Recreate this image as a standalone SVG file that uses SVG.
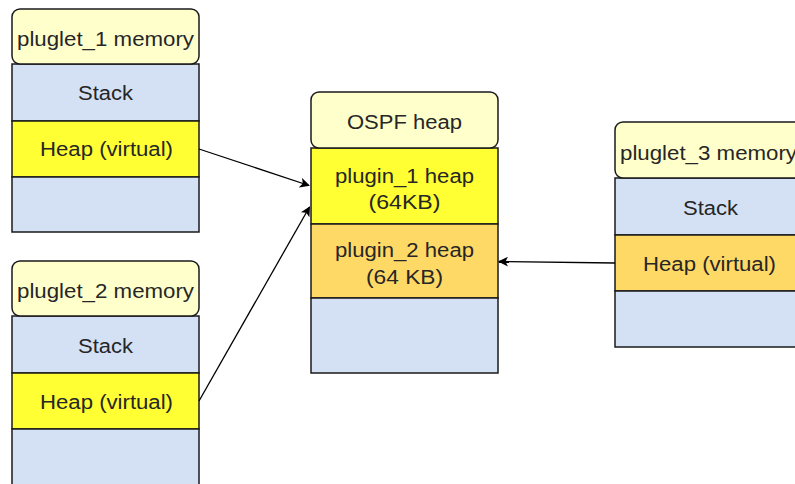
<svg xmlns="http://www.w3.org/2000/svg" width="795" height="484" viewBox="0 0 795 484">
  <style>
    .hdr { fill: #ffffcc; stroke: #1a1a1a; stroke-width: 1.5; }
    .blue { fill: #d4e1f5; stroke: #1a1a1a; stroke-width: 1.5; }
    .yel { fill: #ffff33; stroke: #1a1a1a; stroke-width: 1.5; }
    .org { fill: #ffd966; stroke: #1a1a1a; stroke-width: 1.5; }
    text { font-family: "Liberation Sans", Arial, sans-serif; font-size: 20px; fill: #262626; text-anchor: middle; }
    .edge { stroke: #000; stroke-width: 1.3; fill: none; }
  </style>
  <defs>
    <marker id="arrow" viewBox="0 0 10 10" refX="9" refY="5" markerWidth="10" markerHeight="10" markerUnits="userSpaceOnUse" orient="auto">
      <path d="M0,0 L10,5 L0,10 L2.5,5 Z" fill="#000"/>
    </marker>
  </defs>

  <!-- pluglet 1 memory layout -->
  <g id="pluglet1">
    <rect class="blue" x="12" y="64" width="187" height="57"/>
    <rect class="yel" x="12" y="121" width="187" height="56"/>
    <rect class="blue" x="12" y="177" width="187" height="55"/>
    <rect class="hdr" x="12" y="9" width="187" height="55" rx="8"/>
    <text x="105.5" y="46" textLength="177" lengthAdjust="spacingAndGlyphs">pluglet_1 memory</text>
    <text x="105.5" y="100" textLength="55" lengthAdjust="spacingAndGlyphs">Stack</text>
    <text x="106.5" y="156" textLength="133" lengthAdjust="spacingAndGlyphs">Heap (virtual)</text>
  </g>

  <!-- pluglet 2 memory layout -->
  <g id="pluglet2">
    <rect class="blue" x="12" y="316" width="187" height="57"/>
    <rect class="yel" x="12" y="373" width="187" height="56"/>
    <rect class="blue" x="12" y="429" width="187" height="60"/>
    <rect class="hdr" x="12" y="261" width="187" height="55" rx="8"/>
    <text x="105.5" y="298" textLength="177" lengthAdjust="spacingAndGlyphs">pluglet_2 memory</text>
    <text x="105.5" y="353" textLength="55" lengthAdjust="spacingAndGlyphs">Stack</text>
    <text x="106.5" y="409" textLength="133" lengthAdjust="spacingAndGlyphs">Heap (virtual)</text>
  </g>

  <!-- shared OSPF heap -->
  <g id="ospf">
    <rect class="yel" x="311" y="148" width="187" height="76"/>
    <rect class="org" x="311" y="224" width="187" height="74"/>
    <rect class="blue" x="311" y="298" width="187" height="75"/>
    <rect class="hdr" x="311" y="92" width="187" height="56" rx="8"/>
    <text x="404.5" y="129" textLength="115" lengthAdjust="spacingAndGlyphs">OSPF heap</text>
    <text x="404.5" y="183" textLength="139" lengthAdjust="spacingAndGlyphs">plugin_1 heap</text>
    <text x="404.5" y="209" textLength="72" lengthAdjust="spacingAndGlyphs">(64KB)</text>
    <text x="404.5" y="257" textLength="139" lengthAdjust="spacingAndGlyphs">plugin_2 heap</text>
    <text x="404.5" y="284" textLength="77" lengthAdjust="spacingAndGlyphs">(64 KB)</text>
  </g>

  <!-- pluglet 3 memory layout -->
  <g id="pluglet3">
    <rect class="blue" x="615" y="178" width="187" height="57"/>
    <rect class="org" x="615" y="235" width="187" height="56"/>
    <rect class="blue" x="615" y="291" width="187" height="56"/>
    <rect class="hdr" x="615" y="122" width="187" height="56" rx="8"/>
    <text x="708.5" y="160" textLength="177" lengthAdjust="spacingAndGlyphs">pluglet_3 memory</text>
    <text x="710.5" y="215" textLength="55" lengthAdjust="spacingAndGlyphs">Stack</text>
    <text x="709.5" y="271" textLength="133" lengthAdjust="spacingAndGlyphs">Heap (virtual)</text>
  </g>

  <!-- heap mappings -->
  <g id="connectors">
    <line class="edge" x1="199" y1="149" x2="309" y2="185.5" marker-end="url(#arrow)"/>
    <line class="edge" x1="199" y1="401" x2="309.5" y2="207" marker-end="url(#arrow)"/>
    <line class="edge" x1="615" y1="263" x2="499" y2="261.5" marker-end="url(#arrow)"/>
  </g>
</svg>
